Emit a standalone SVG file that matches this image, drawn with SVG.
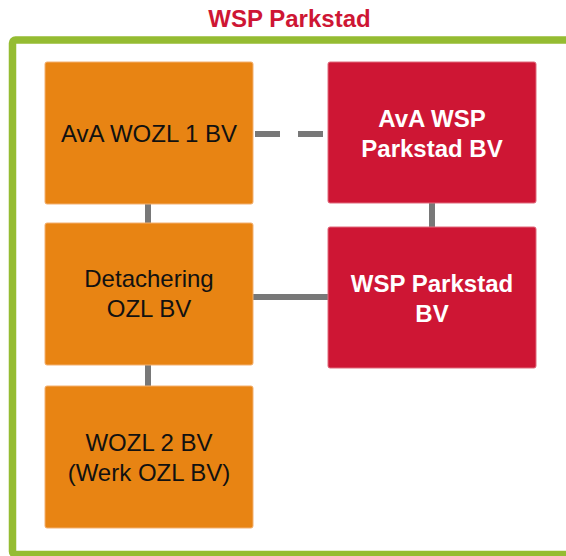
<svg xmlns="http://www.w3.org/2000/svg" width="566" height="556" viewBox="0 0 566 556">
  <style>
    .frame { fill: none; stroke: #95BC32; stroke-width: 7.5; }
    .title { font-family: "Liberation Sans", Arial, sans-serif; font-weight: bold; font-size: 24px; fill: #CE1634; text-anchor: middle; }
    .orange { fill: #E88413; stroke: #F3B070; stroke-width: 1; }
    .red { fill: #CE1634; stroke: #E06A7C; stroke-width: 1; }
    .lbl { font-family: "Liberation Sans", Arial, sans-serif; font-size: 24px; text-anchor: middle; }
    .dark { fill: #111111; }
    .light { fill: #FFFFFF; font-weight: bold; }
    .conn { stroke: #787878; stroke-width: 6; fill: none; }
    .dash { stroke-dasharray: 25 18; }
  </style>
  <rect width="566" height="556" fill="#FFFFFF"/>
  <rect class="frame" x="12.5" y="40" width="600" height="514.5" rx="3"/>
  <text class="title" x="289.5" y="27">WSP Parkstad</text>

  <g id="connectors">
    <line class="conn" x1="148" y1="204" x2="148" y2="223"/>
    <line class="conn" x1="148" y1="365" x2="148" y2="386"/>
    <line class="conn" x1="432" y1="203" x2="432" y2="227"/>
    <line class="conn" x1="253" y1="297" x2="328" y2="297"/>
    <line class="conn dash" x1="255" y1="134" x2="328" y2="134"/>
  </g>

  <g id="ava-wozl-1-bv">
    <rect class="orange" x="45" y="62" width="208" height="142" rx="2"/>
    <text class="lbl dark" x="149" y="142">AvA WOZL 1 BV</text>
  </g>
  <g id="detachering-ozl-bv">
    <rect class="orange" x="45" y="223" width="208" height="142" rx="2"/>
    <text class="lbl dark" x="149" y="287">Detachering</text>
    <text class="lbl dark" x="149" y="317">OZL BV</text>
  </g>
  <g id="wozl-2-bv">
    <rect class="orange" x="45" y="386" width="208" height="142" rx="2"/>
    <text class="lbl dark" x="149" y="450.5">WOZL 2 BV</text>
    <text class="lbl dark" x="149" y="480.5">(Werk OZL BV)</text>
  </g>
  <g id="ava-wsp-parkstad-bv">
    <rect class="red" x="328" y="62" width="208" height="141" rx="2"/>
    <text class="lbl light" x="432" y="127">AvA WSP</text>
    <text class="lbl light" x="432" y="157">Parkstad BV</text>
  </g>
  <g id="wsp-parkstad-bv">
    <rect class="red" x="328" y="227" width="208" height="141" rx="2"/>
    <text class="lbl light" x="432" y="292">WSP Parkstad</text>
    <text class="lbl light" x="432" y="322">BV</text>
  </g>
</svg>
